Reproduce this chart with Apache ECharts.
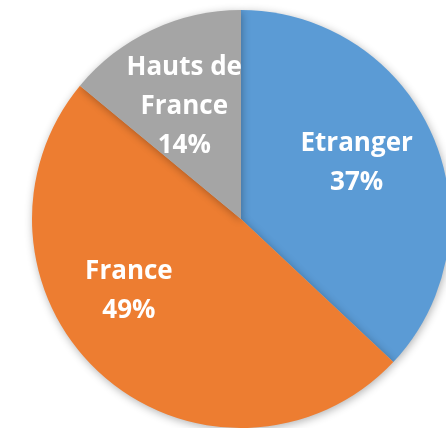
<!DOCTYPE html>
<html>
<head>
<meta charset="utf-8">
<script src="https://cdn.jsdelivr.net/npm/echarts@6/dist/echarts.min.js"></script>
<style>html,body{margin:0;padding:0;background:#fff}#c{width:446px;height:428px}</style>
</head>
<body>
<div id="c"></div>
<script>
const categories = ['Etranger', 'France', 'Hauts de\nFrance'];
const values = [37, 49, 14];
const colors = ['#5B9BD5', '#ED7D31', '#A5A5A5'];
const labelOffsets = [[17, -13], [-41, -9], [-11, -15]];

const chart = echarts.init(document.getElementById('c'), null, {renderer: 'canvas'});
chart.setOption({
  animation: false,
  series: [{
    type: 'pie',
    center: [241, 219],
    radius: [0, 209],
    startAngle: 90,
    clockwise: true,
    avoidLabelOverlap: false,
    itemStyle: {
      shadowBlur: 8,
      shadowColor: 'rgba(0,0,0,0.3)',
      shadowOffsetX: 1,
      shadowOffsetY: 2
    },
    label: {
      show: true,
      position: 'inside',
      color: '#fff',
      fontFamily: 'Open Sans',
      fontWeight: 'bold',
      fontSize: 26,
      lineHeight: 39,
      formatter: p => p.name + '\n' + p.value + '%'
    },
    labelLine: {show: false},
    emphasis: {disabled: true},
    data: categories.map((c, i) => ({
      name: c,
      value: values[i],
      itemStyle: {color: colors[i]},
      label: {offset: labelOffsets[i]}
    }))
  }]
});
</script>
</body>
</html>
